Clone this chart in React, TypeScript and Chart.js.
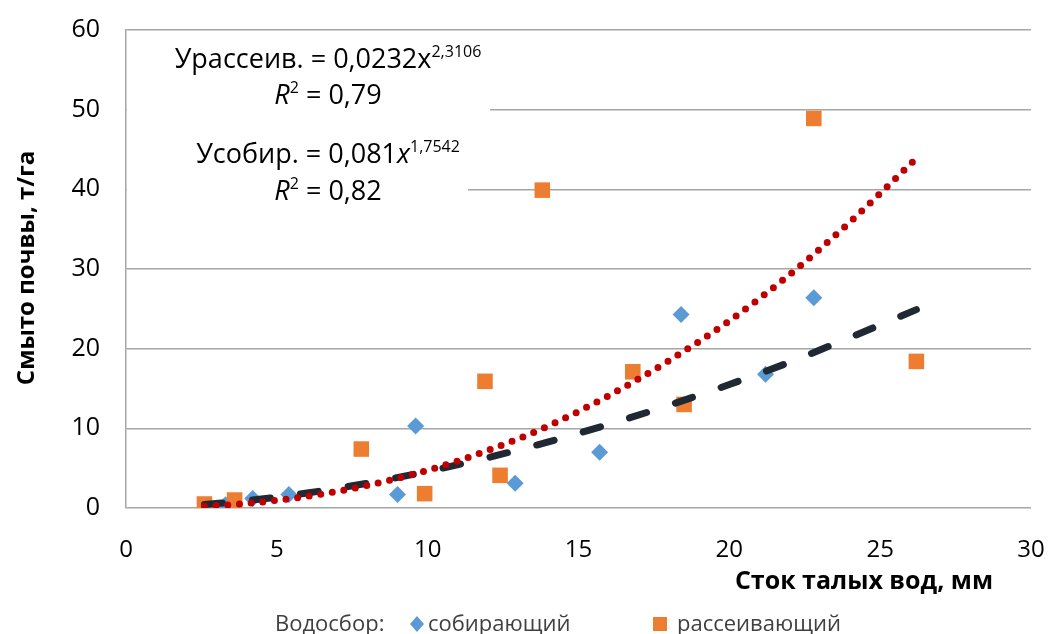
import React, { useEffect, useRef } from "react";
import { Chart, registerables } from "chart.js";

Chart.register(...registerables);

// Measured scatter data
const collectX = [3.3, 4.2, 5.4, 9.0, 9.6, 12.9, 15.7, 18.4, 21.2, 22.8];
const collectY = [0.4, 1.2, 1.7, 1.7, 10.3, 3.1, 7.0, 24.3, 16.8, 26.4];
const disperseX = [2.6, 3.6, 7.8, 9.9, 11.9, 12.4, 13.8, 16.8, 18.5, 22.8, 26.2];
const disperseY = [0.5, 1.0, 7.4, 1.8, 15.9, 4.1, 39.9, 17.1, 13.0, 48.9, 18.4];

// Trend lines
const trendX = [2.6, 4, 6, 8, 10, 12, 14, 16, 18, 20, 22, 24, 26.2];
const trendCollectY = [0.43, 0.92, 1.88, 3.11, 4.6, 6.33, 8.3, 10.5, 12.9, 15.5, 18.3, 21.4, 24.9];
const trendDisperseY = [0.21, 0.57, 1.46, 2.83, 4.74, 7.23, 10.3, 14.1, 18.5, 23.5, 29.3, 35.9, 43.9];

const xTicks = [0, 5, 10, 15, 20, 25, 30];
const yTicks = [0, 10, 20, 30, 40, 50, 60];

const seriesCollect = "собирающий";
const seriesDisperse = "рассеивающий";
const legendPrefix = "Водосбор:";
const xTitle = "Сток талых вод, мм";
const yTitle = "Смыто почвы, т/га";

const FONT = "'Open Sans', 'DejaVu Sans', sans-serif";
const BLUE = "#5B9BD5";
const ORANGE = "#ED7D31";

const pts = (xs: number[], ys: number[]) => xs.map((x, i) => ({ x, y: ys[i] }));

type Part = { t: string; sup?: boolean; it?: boolean };

function partFont(p: Part, size: number) {
  const fs = p.sup ? Math.round(size * 0.6) : size;
  return `${p.it ? "italic " : ""}${fs}px ${FONT}`;
}

function drawRichCentered(ctx: CanvasRenderingContext2D, parts: Part[], cx: number, y: number, size: number) {
  let w = 0;
  for (const p of parts) {
    ctx.font = partFont(p, size);
    w += ctx.measureText(p.t).width;
  }
  let x = cx - w / 2;
  for (const p of parts) {
    ctx.font = partFont(p, size);
    ctx.fillText(p.t, x, p.sup ? y - size * 0.42 : y);
    x += ctx.measureText(p.t).width;
  }
}

const customPlugin = {
  id: "custom",
  beforeDatasetsDraw(chart: any) {
    const ctx = chart.ctx as CanvasRenderingContext2D;
    const ca = chart.chartArea;
    ctx.save();
    ctx.fillStyle = "#ffffff";
    ctx.fillRect(ca.left + 1, ca.top + 5, 490 - ca.left - 1, 90);
    ctx.fillRect(ca.left + 1, 128, 468 - ca.left - 1, 76);
    ctx.fillStyle = "#000000";
    ctx.textBaseline = "alphabetic";
    ctx.textAlign = "left";
    const S = 27;
    const C = 328;
    drawRichCentered(ctx, [{ t: "Урассеив. = 0,0232x" }, { t: "2,3106", sup: true }], C, 68, S);
    drawRichCentered(ctx, [{ t: "R", it: true }, { t: "2", sup: true }, { t: " = 0,79" }], C, 104, S);
    drawRichCentered(ctx, [{ t: "Усобир. = 0,081" }, { t: "x", it: true }, { t: "1,7542", sup: true }], C, 163, S);
    drawRichCentered(ctx, [{ t: "R", it: true }, { t: "2", sup: true }, { t: " = 0,82" }], C, 200, S);
    ctx.restore();
  },
  afterDraw(chart: any) {
    const ctx = chart.ctx as CanvasRenderingContext2D;
    ctx.save();
    // x title
    ctx.fillStyle = "#000000";
    ctx.font = `bold 25px ${FONT}`;
    ctx.textAlign = "right";
    ctx.textBaseline = "middle";
    ctx.fillText(xTitle, 993, 582);
    // y title
    ctx.save();
    ctx.translate(27, 268);
    ctx.rotate(-Math.PI / 2);
    ctx.font = `bold 24px ${FONT}`;
    ctx.textAlign = "center";
    ctx.fillText(yTitle, 0, 0);
    ctx.restore();
    // legend
    ctx.font = `22px ${FONT}`;
    ctx.fillStyle = "#404040";
    ctx.textAlign = "left";
    ctx.textBaseline = "alphabetic";
    const base = 631;
    const ly = 624;
    ctx.fillText(legendPrefix, 275, base);
    ctx.fillStyle = BLUE;
    ctx.beginPath();
    ctx.moveTo(417, ly - 8);
    ctx.lineTo(424, ly);
    ctx.lineTo(417, ly + 8);
    ctx.lineTo(410, ly);
    ctx.closePath();
    ctx.fill();
    ctx.fillStyle = "#404040";
    ctx.fillText(seriesCollect, 428, base);
    ctx.fillStyle = ORANGE;
    ctx.fillRect(653, ly - 7, 14, 14);
    ctx.fillStyle = "#404040";
    ctx.fillText(seriesDisperse, 677, base);
    ctx.restore();
  },
};

export default function App() {
  const ref = useRef<HTMLCanvasElement | null>(null);
  useEffect(() => {
    document.body.style.margin = "0";
    const chart = new Chart(ref.current!, {
      type: "scatter",
      data: {
        datasets: [
          {
            type: "line",
            label: "trend disperse",
            data: pts(trendX, trendDisperseY),
            borderColor: "#C00000",
            borderWidth: 7,
            borderDash: [0, 11.7],
            borderCapStyle: "round",
            pointRadius: 0,
            cubicInterpolationMode: "monotone",
            fill: false,
          } as any,
          {
            type: "line",
            label: "trend collect",
            data: pts(trendX, trendCollectY),
            borderColor: "#1F2833",
            borderWidth: 7,
            borderDash: [18, 30.3],
            borderCapStyle: "round",
            pointRadius: 0,
            cubicInterpolationMode: "monotone",
            fill: false,
          } as any,
          {
            label: seriesDisperse,
            data: pts(disperseX, disperseY),
            pointStyle: "rect",
            pointRadius: 11,
            backgroundColor: ORANGE,
            borderColor: ORANGE,
            borderWidth: 0,
          },
          {
            label: seriesCollect,
            data: pts(collectX, collectY),
            pointStyle: "rectRot",
            pointRadius: 8.5,
            backgroundColor: BLUE,
            borderColor: BLUE,
            borderWidth: 0,
          },
        ],
      },
      options: {
        responsive: false,
        animation: false,
        layout: { padding: { top: 30, right: 28, left: 0, bottom: 0 } },
        plugins: { legend: { display: false }, tooltip: { enabled: false } },
        scales: {
          x: {
            type: "linear",
            min: 0,
            max: 30,
            afterBuildTicks: (s: any) => {
              s.ticks = xTicks.map((v) => ({ value: v }));
            },
            afterFit: (s: any) => {
              s.height = 126;
              s.paddingLeft = 0;
              s.paddingRight = 0;
            },
            grid: { display: false, drawTicks: false },
            border: { display: false },
            ticks: { font: { family: FONT, size: 24 }, color: "#000000", padding: 28, maxRotation: 0 },
          },
          y: {
            type: "linear",
            min: 0,
            max: 60,
            afterBuildTicks: (s: any) => {
              s.ticks = yTicks.map((v) => ({ value: v }));
            },
            afterFit: (s: any) => {
              s.width = 126;
              s.paddingTop = 0;
              s.paddingBottom = 0;
            },
            grid: { color: "#A6A6A6", lineWidth: 1.5, drawTicks: false },
            border: { display: true, color: "#A6A6A6", width: 1.5 },
            ticks: { font: { family: FONT, size: 25 }, color: "#000000", padding: 26 },
          },
        },
      },
      plugins: [customPlugin],
    });
    return () => chart.destroy();
  }, []);
  return <canvas ref={ref} width={1059} height={634} style={{ display: "block" }} />;
}
